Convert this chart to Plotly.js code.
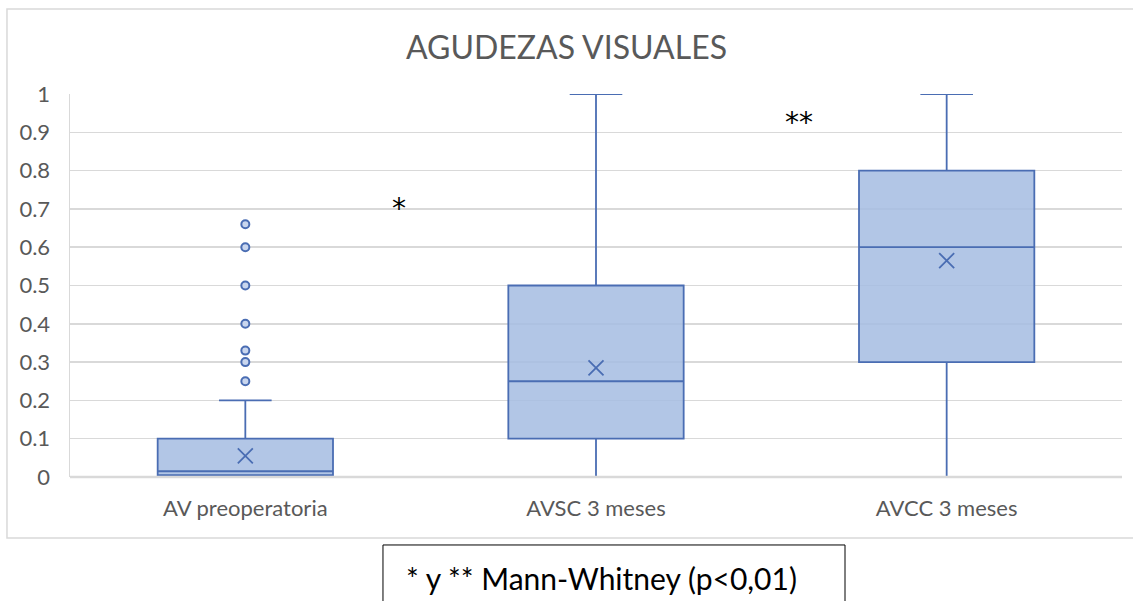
<!DOCTYPE html>
<html>
<head>
<meta charset="utf-8">
<script src="https://cdn.plot.ly/plotly-3.0.1.min.js"></script>
<style>html,body{margin:0;padding:0;background:#fff;}#chart{width:1133px;height:601px;}</style>
</head>
<body>
<div id="chart"></div>
<script>
// ---- data ----
const categories = ["AV preoperatoria", "AVSC 3 meses", "AVCC 3 meses"];
const q1Values = [0.005, 0.1, 0.3];
const medianValues = [0.015, 0.25, 0.6];
const q3Values = [0.1, 0.5, 0.8];
const lowerWhisker = [0, 0, 0];
const upperWhisker = [0.2, 1, 1];
const meanValues = [0.055, 0.285, 0.565];
const outlierCategory = ["AV preoperatoria","AV preoperatoria","AV preoperatoria","AV preoperatoria","AV preoperatoria","AV preoperatoria","AV preoperatoria"];
const outlierValues = [0.25, 0.3, 0.33, 0.4, 0.5, 0.6, 0.66];
const yTicks = [0, 0.1, 0.2, 0.3, 0.4, 0.5, 0.6, 0.7, 0.8, 0.9, 1];
const titleText = "AGUDEZAS VISUALES";
const noteText = "* y ** Mann-Whitney (p<0,01)";

const lineColor = "#4A6DB3";
const fillColor = "rgba(164,188,226,0.85)";
const font = "Lato, 'Open Sans', sans-serif";
const starFont = "'DejaVu Sans', sans-serif";

const traces = [
  {
    type: "box",
    x: categories,
    q1: q1Values,
    median: medianValues,
    q3: q3Values,
    lowerfence: lowerWhisker,
    upperfence: upperWhisker,
    boxpoints: false,
    width: 0.5,
    whiskerwidth: 0.3,
    fillcolor: fillColor,
    line: {color: lineColor, width: 1.8},
    hoverinfo: "skip",
    showlegend: false
  },
  {
    type: "scatter",
    mode: "markers",
    x: categories,
    y: meanValues,
    marker: {symbol: "x-thin", size: 15, color: lineColor, line: {color: lineColor, width: 1.8}},
    cliponaxis: false,
    showlegend: false,
    hoverinfo: "skip"
  },
  {
    type: "scatter",
    mode: "markers",
    x: outlierCategory,
    y: outlierValues,
    marker: {symbol: "circle", size: 8, color: "#C9D6EE", line: {color: lineColor, width: 2}},
    showlegend: false,
    hoverinfo: "skip"
  }
];

const layout = {
  width: 1133,
  height: 601,
  margin: {l: 70, r: 11, t: 94, b: 124},
  paper_bgcolor: "#ffffff",
  plot_bgcolor: "#ffffff",
  font: {family: font, color: "#595959"},
  title: {
    text: titleText,
    font: {family: font, size: 32, color: "#595959"},
    x: 0.5, xanchor: "center",
    y: 0.921, yanchor: "middle"
  },
  xaxis: {
    type: "category",
    categoryarray: categories,
    range: [-0.5, 2.5],
    showgrid: false,
    zeroline: false,
    showline: false,
    ticks: "outside",
    ticklen: 12,
    tickcolor: "rgba(0,0,0,0)",
    tickfont: {family: font, size: 22, color: "#595959"}
  },
  yaxis: {
    range: [0, 1],
    tickvals: yTicks,
    ticktext: yTicks.map(String),
    showgrid: true,
    gridcolor: "#D9D9D9",
    gridwidth: 1.5,
    zeroline: false,
    showline: true,
    linecolor: "#D9D9D9",
    linewidth: 1.5,
    ticks: "outside",
    ticklen: 14,
    tickcolor: "rgba(0,0,0,0)",
    tickfont: {family: font, size: 22, color: "#595959"}
  },
  shapes: [
    {type: "rect", xref: "paper", yref: "paper", x0: -0.0599, x1: 1.03, y0: -0.1593, y1: 1.222,
     line: {color: "#D9D9D9", width: 1.5}, fillcolor: "rgba(0,0,0,0)", layer: "below"},
    {type: "line", xref: "paper", yref: "paper", x0: 0, x1: 1, y0: 0, y1: 0,
     line: {color: "#D9D9D9", width: 2.5}, layer: "above"},
    {type: "rect", xref: "paper", yref: "paper", x0: 0.2975, x1: 0.7367, y0: -0.36, y1: -0.1775,
     line: {color: "#000000", width: 1}, fillcolor: "#ffffff"}
  ],
  annotations: [
    {text: "*", xref: "x", yref: "y", x: 0.437, y: 0.7, showarrow: false,
     font: {family: starFont, size: 28, color: "#000000"}},
    {text: "**", xref: "x", yref: "y", x: 1.58, y: 0.925, showarrow: false,
     font: {family: starFont, size: 28, color: "#000000"}},
    {text: noteText, xref: "paper", yref: "paper", x: 0.5048, y: -0.2637, showarrow: false,
     xanchor: "center", yanchor: "middle",
     font: {family: font, size: 30, color: "#000000"}}
  ]
};

Plotly.newPlot("chart", traces, layout, {displayModeBar: false, staticPlot: true});
</script>
</body>
</html>
